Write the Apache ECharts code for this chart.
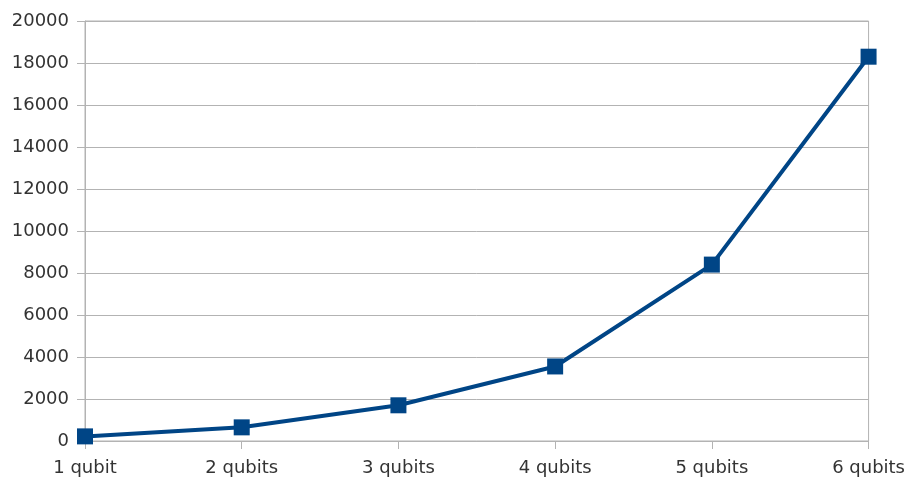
<!DOCTYPE html>
<html>
<head>
<meta charset="utf-8">
<script src="https://cdn.jsdelivr.net/npm/echarts@6/dist/echarts.min.js"></script>
<style>
  html, body { margin: 0; padding: 0; background: #ffffff; }
  #chart { width: 908px; height: 480px; }
</style>
</head>
<body>
<div id="chart"></div>
<script>
// Number of qubits simulated
const categories = ['1 qubit', '2 qubits', '3 qubits', '4 qubits', '5 qubits', '6 qubits'];
// Measured value for each qubit count
const values = [220, 650, 1700, 3550, 8400, 18300];
// Value axis range
const yMin = 0;
const yMax = 20000;
const yStep = 2000;

const chart = echarts.init(document.getElementById('chart'), null, { renderer: 'canvas' });

const labelFont = {
  color: '#333333',
  fontFamily: 'DejaVu Sans',
  fontSize: 18
};

chart.setOption({
  animation: false,
  backgroundColor: '#ffffff',
  grid: {
    left: 85,
    right: 39,
    top: 21,
    bottom: 39,
    show: true,
    borderColor: '#b3b3b3',
    borderWidth: 1
  },
  xAxis: {
    type: 'category',
    data: categories,
    boundaryGap: false,
    axisLine: { show: true, lineStyle: { color: '#b3b3b3', width: 1 } },
    axisTick: { show: true, inside: false, length: 8, alignWithLabel: true, lineStyle: { color: '#b3b3b3' } },
    axisLabel: Object.assign({ margin: 18 }, labelFont),
    splitLine: { show: false }
  },
  yAxis: {
    type: 'value',
    min: yMin,
    max: yMax,
    interval: yStep,
    axisLine: { show: true, lineStyle: { color: '#b3b3b3', width: 1 } },
    axisTick: { show: true, inside: false, length: 8, lineStyle: { color: '#b3b3b3' } },
    axisLabel: Object.assign({ margin: 16, formatter: (v) => String(v) }, labelFont),
    splitLine: { show: true, lineStyle: { color: '#b3b3b3', width: 1 } }
  },
  series: [{
    type: 'line',
    data: values,
    symbol: 'rect',
    symbolSize: 16,
    showAllSymbol: true,
    lineStyle: { color: '#004586', width: 4 },
    itemStyle: { color: '#004586' }
  }]
});
</script>
</body>
</html>
